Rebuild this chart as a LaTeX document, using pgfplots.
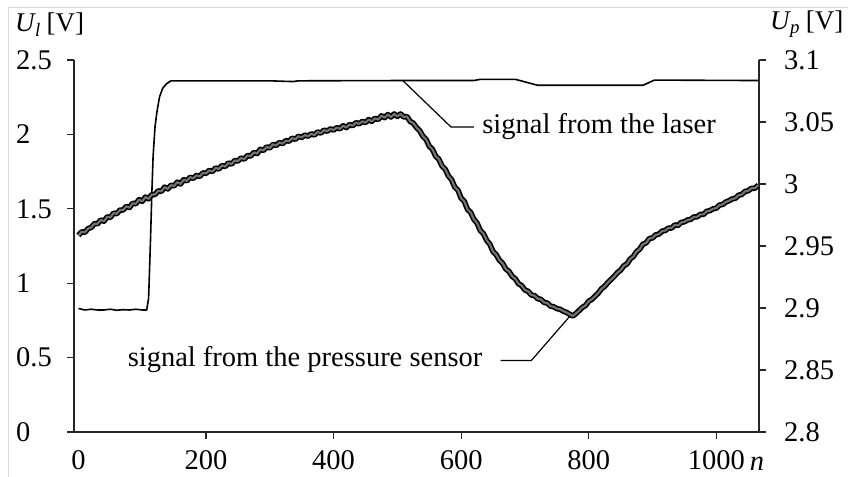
\documentclass[border=0pt]{standalone}
\usepackage{fontspec}
\setmainfont{Liberation Serif}
\usepackage{pgfplots}
\usepackage{pgfplotstable}
\pgfplotsset{compat=1.18}
\pgfplotstableread{
n U
0 0.83
10 0.82
20 0.825
30 0.82
40 0.82
50 0.825
60 0.818
70 0.822
80 0.82
90 0.825
100 0.82
107 0.82
110 0.90
113 1.30
115 1.60
117 1.85
120 2.05
123 2.15
127 2.25
132 2.31
138 2.34
145 2.36
200 2.36
300 2.36
336 2.355
345 2.36
500 2.362
620 2.362
630 2.37
685 2.37
720 2.33
885 2.33
903 2.365
1066 2.362
}\laser
\pgfplotstableread{
n U
0 2.9585
5 2.9615
10 2.9610
15 2.9640
20 2.9650
25 2.9680
30 2.9680
35 2.9710
40 2.9700
45 2.9735
50 2.9730
55 2.9765
60 2.9760
65 2.9790
70 2.9790
75 2.9820
80 2.9810
85 2.9845
90 2.9840
95 2.9875
100 2.9860
105 2.9895
110 2.9880
115 2.9915
120 2.9915
125 2.9945
130 2.9940
135 2.9975
140 2.9960
145 2.9990
150 2.9985
155 3.0015
160 3.0000
165 3.0035
170 3.0025
175 3.0055
180 3.0045
185 3.0070
190 3.0060
195 3.0090
200 3.0085
205 3.0110
210 3.0100
215 3.0130
220 3.0120
225 3.0150
230 3.0140
235 3.0170
240 3.0160
245 3.0190
250 3.0185
255 3.0210
260 3.0200
265 3.0230
270 3.0225
275 3.0255
280 3.0245
285 3.0280
290 3.0270
295 3.0300
300 3.0290
305 3.0320
310 3.0310
315 3.0335
320 3.0325
325 3.0350
330 3.0345
335 3.0370
340 3.0360
345 3.0385
350 3.0375
355 3.0395
360 3.0385
365 3.0405
370 3.0395
375 3.0420
380 3.0410
385 3.0435
390 3.0425
395 3.0445
400 3.0435
405 3.0455
410 3.0445
415 3.0470
420 3.0455
425 3.0480
430 3.0470
435 3.0495
440 3.0485
445 3.0505
450 3.0495
455 3.0520
460 3.0505
465 3.0530
470 3.0520
475 3.0550
480 3.0535
485 3.0560
490 3.0540
495 3.0565
500 3.0545
505 3.0565
510 3.0540
515 3.0545
520 3.0505
525 3.0490
530 3.0455
535 3.0430
540 3.0385
545 3.0360
550 3.0305
555 3.0280
560 3.0225
565 3.0200
570 3.0145
575 3.0120
580 3.0065
585 3.0035
590 2.9975
595 2.9950
600 2.9885
605 2.9860
610 2.9795
615 2.9770
620 2.9715
625 2.9685
630 2.9625
635 2.9600
640 2.9545
645 2.9515
650 2.9455
655 2.9430
660 2.9385
665 2.9360
670 2.9315
675 2.9295
680 2.9255
685 2.9235
690 2.9195
695 2.9180
700 2.9145
705 2.9135
710 2.9105
715 2.9100
720 2.9075
725 2.9070
730 2.9045
735 2.9040
740 2.9015
745 2.9010
750 2.8995
755 2.8990
760 2.8975
765 2.8965
770 2.8950
775 2.8935
780 2.8955
785 2.8980
790 2.9005
795 2.9020
800 2.9055
805 2.9070
810 2.9095
815 2.9120
820 2.9155
825 2.9175
830 2.9205
835 2.9230
840 2.9255
845 2.9285
850 2.9305
855 2.9340
860 2.9355
865 2.9395
870 2.9415
875 2.9455
880 2.9475
885 2.9515
890 2.9525
895 2.9560
900 2.9565
905 2.9590
910 2.9595
915 2.9620
920 2.9625
925 2.9645
930 2.9645
935 2.9670
940 2.9665
945 2.9690
950 2.9695
955 2.9710
960 2.9715
965 2.9735
970 2.9735
975 2.9755
980 2.9755
985 2.9780
990 2.9785
995 2.9800
1000 2.9805
1005 2.9830
1010 2.9835
1015 2.9855
1020 2.9865
1025 2.9880
1030 2.9885
1035 2.9910
1040 2.9915
1045 2.9940
1050 2.9945
1055 2.9965
1060 2.9965
1066 2.9990
}\pressure
\newcommand{\bigf}{\fontsize{28.5bp}{30bp}\selectfont}
\newcommand{\titf}{\fontsize{27bp}{29bp}\selectfont}
\begin{document}
\begin{tikzpicture}
\useasboundingbox (-74bp,-45bp) rectangle (774bp,432bp);
\draw[black!15, line width=0.8bp] (-66bp,-45bp) -- (-66bp,425bp) -- (774bp,425bp);
\pgfplotsset{
  common/.style={
    at={(0,0)}, anchor=south west,
    scale only axis, width=685bp, height=372bp,
    xmin=-7, xmax=1067,
    clip=false,
    tick align=outside, major tick length=7bp,
    axis line style={line width=1.4bp, black!85},
    every tick/.style={line width=1.2bp, black!85},
    every tick label/.append style={font=\bigf, inner sep=0pt},
    /pgf/number format/assume math mode=true,
    /pgf/number format/1000 sep={},
    scaled ticks=false,
  }
}
\begin{axis}[common,
  ymin=0, ymax=2.5,
  axis x line*=bottom, axis y line*=left,
  xtick={200,400,600,800,1000},
  extra x ticks={0},
  extra x tick style={major tick length=0pt, xticklabel style={yshift=-7bp}},
  ytick={0,0.5,1,1.5,2,2.5},
  yticklabel style={anchor=west, xshift=-51bp},
  xticklabel style={anchor=north, yshift=-11bp},
]
\addplot[black, line width=1.6bp, line join=round] table[x=n, y=U] {\laser};
\draw[black, line width=1.2bp] (axis cs:509,2.36) -- (axis cs:584,2.05) -- (axis cs:620,2.05);
\draw[black, line width=1.2bp] (axis cs:662,0.48) -- (axis cs:710,0.48) -- (axis cs:772,0.786);
\node[anchor=base west, inner sep=0pt, font=\bigf] at (axis cs:633,2.009) {signal from the laser};
\node[anchor=base west, inner sep=0pt, font=\bigf] at (axis cs:77,0.437) {signal from the pressure sensor};
\node[anchor=base west, inner sep=0pt, font=\titf] at ([xshift=-59bp, yshift=28bp]rel axis cs:0,1) {\textit{U}\kern-1bp\textsubscript{\textit{l}}\kern-1bp{} [V]};
\node[anchor=base, inner sep=0pt, font=\bigf] at ([xshift=683bp, yshift=-38bp]rel axis cs:0,0) {\textit{n}};
\end{axis}
\begin{axis}[common,
  ymin=2.8, ymax=3.1,
  axis x line=none, axis y line*=right,
  ytick={2.8,2.85,2.9,2.95,3,3.05,3.1},
  yticklabel style={anchor=west, xshift=18bp},
]
\addplot[black, line width=5.5bp, line join=round] table[x=n, y=U] {\pressure};
\addplot[black!55, line width=2.2bp, line join=round] table[x=n, y=U] {\pressure};
\node[anchor=base west, inner sep=0pt, font=\titf] at ([xshift=11bp, yshift=30bp]rel axis cs:1,1) {\textit{U}\kern-1bp\textsubscript{\textit{p}}\kern-1bp{} [V]};
\end{axis}
\end{tikzpicture}
\end{document}
